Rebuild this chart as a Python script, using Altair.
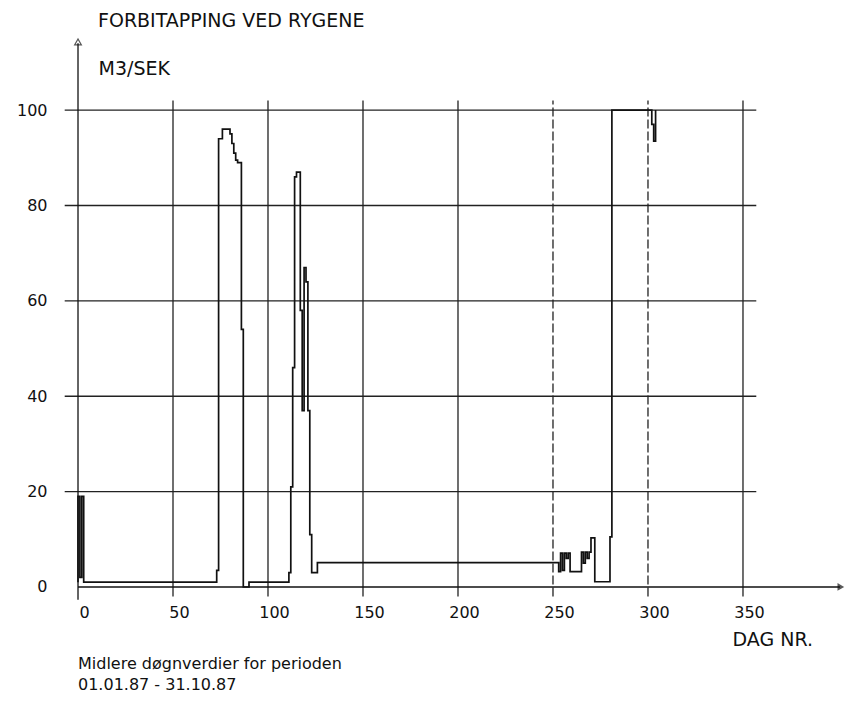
import altair as alt
import pandas as pd

# Step vertices of the daily-mean series (day number, m3/s)
days = [0, 0, 1, 2, 3, 73, 74, 76, 80, 81, 82, 83, 84, 86, 87, 90,
        111, 112, 113, 114, 115, 117, 118, 119, 120, 121, 122, 123, 126,
        253, 254, 255, 256, 257, 258, 259, 265, 266, 267, 268, 269, 270, 272,
        280, 281, 302, 303, 304]
flow = [1, 19, 2, 19, 1, 3.5, 94, 96, 95, 93, 91, 89.5, 89, 54, 0, 1,
        3, 21, 46, 86, 87, 58, 37, 67, 64, 37, 11, 3, 5.1,
        3.2, 7.1, 3.5, 7.1, 6, 7.1, 3.2, 7.3, 5, 7.3, 6, 7.3, 10.3, 1.1,
        10.5, 100, 97, 93.5, 100]

y_ticks = [0, 20, 40, 60, 80, 100]
x_ticks = [0, 50, 100, 150, 200, 250, 300, 350]
grid_h = [20, 40, 60, 80, 100]
grid_v_solid = [50, 100, 150, 200, 350]
grid_v_dashed = [250, 300]

title_txt = "FORBITAPPING VED RYGENE"
y_title = "M3/SEK"
x_title = "DAG NR."
note1 = "Midlere døgnverdier for perioden"
note2 = "01.01.87 - 31.10.87"

FONT = "DejaVu Sans"
INK = "#111111"

XDOM = [-7.37, 405.8]
YDOM = [-2.73, 116.8]


def xsc():
    return alt.Scale(domain=XDOM, nice=False, zero=False)


def ysc():
    return alt.Scale(domain=YDOM, nice=False, zero=False)


def xax():
    return alt.Axis(
        values=x_ticks, title=x_title, titleX=668, titleY=39, titleAlign="left",
        titleBaseline="middle", titleAngle=0, titleFontSize=19, titleFontWeight="normal",
        titleFont=FONT, titleColor=INK,
        labelOffset=6, labelPadding=4, ticks=False, domain=False, grid=False,
        labelFontSize=16, labelFont=FONT, labelColor=INK)


def yax():
    return alt.Axis(
        values=y_ticks, title=y_title, titleX=34, titleY=38, titleAlign="left",
        titleBaseline="middle", titleAngle=0, titleFontSize=19, titleFontWeight="normal",
        titleFont=FONT, titleColor=INK,
        labelPadding=17, ticks=False, domain=False, grid=False,
        labelFontSize=16, labelFont=FONT, labelColor=INK)


def X(field):
    return alt.X(field, scale=xsc(), axis=xax())


def Y(field):
    return alt.Y(field, scale=ysc(), axis=yax())


df = pd.DataFrame({"day": days, "flow": flow, "i": list(range(len(days)))})

line = alt.Chart(df).mark_line(interpolate="step-after", color=INK, strokeWidth=1.7).encode(
    x=X("day:Q"), y=Y("flow:Q"), order=alt.Order("i:Q"),
)

hdf = pd.DataFrame({"v": grid_h})
hdf["a"] = -7.0
hdf["b"] = 357.0
hgrid = alt.Chart(hdf).mark_rule(color="#222222", strokeWidth=1.3).encode(
    y=Y("v:Q"), x=X("a:Q"), x2="b:Q",
)


def vgrid(vals, dash):
    d = pd.DataFrame({"d": vals})
    d["a"] = -2.0
    d["b"] = 102.0
    return alt.Chart(d).mark_rule(color="#222222", strokeWidth=1.3, strokeDash=dash).encode(
        x=X("d:Q"), y=Y("a:Q"), y2="b:Q",
    )


ya = pd.DataFrame({"x": [0.0], "a": [-2.7], "b": [114.0]})
yaxis = alt.Chart(ya).mark_rule(color=INK, strokeWidth=1.3).encode(
    x=X("x:Q"), y=Y("a:Q"), y2="b:Q",
)
xa = pd.DataFrame({"y": [0.0], "a": [0.0], "b": [401.0]})
xaxis = alt.Chart(xa).mark_rule(color=INK, strokeWidth=1.3).encode(
    y=Y("y:Q"), x=X("a:Q"), x2="b:Q",
)

yarrow = alt.Chart(pd.DataFrame({"x": [0.0], "y": [114.3]})).mark_point(
    shape="triangle-up", filled=False, color=INK, size=45, strokeWidth=1.2).encode(
    x=X("x:Q"), y=Y("y:Q"))
xarrow = alt.Chart(pd.DataFrame({"x": [401.5], "y": [0.0]})).mark_point(
    shape="triangle-right", filled=True, color=INK, size=60).encode(
    x=X("x:Q"), y=Y("y:Q"))


def label(txt, px, py, size):
    return alt.Chart(pd.DataFrame({"t": [txt]})).mark_text(
        align="left", baseline="middle", font=FONT, fontSize=size, color=INK).encode(
        text="t:N", x=alt.value(px), y=alt.value(py))


chart = alt.layer(
    hgrid, vgrid(grid_v_solid, [1, 0]), vgrid(grid_v_dashed, [9, 3]),
    yaxis, xaxis, yarrow, xarrow, line,
    label(title_txt, 34, -9, 19),
    label(note1, 14, 634, 16),
    label(note2, 14, 655, 16),
).properties(
    width=785, height=570,
    padding={"left": 56, "top": 22, "right": 0, "bottom": 96},
    autosize="none",
    background="white",
).configure_view(stroke=None)

chart.save("out.html", embed_options={"renderer": "svg", "actions": False})
